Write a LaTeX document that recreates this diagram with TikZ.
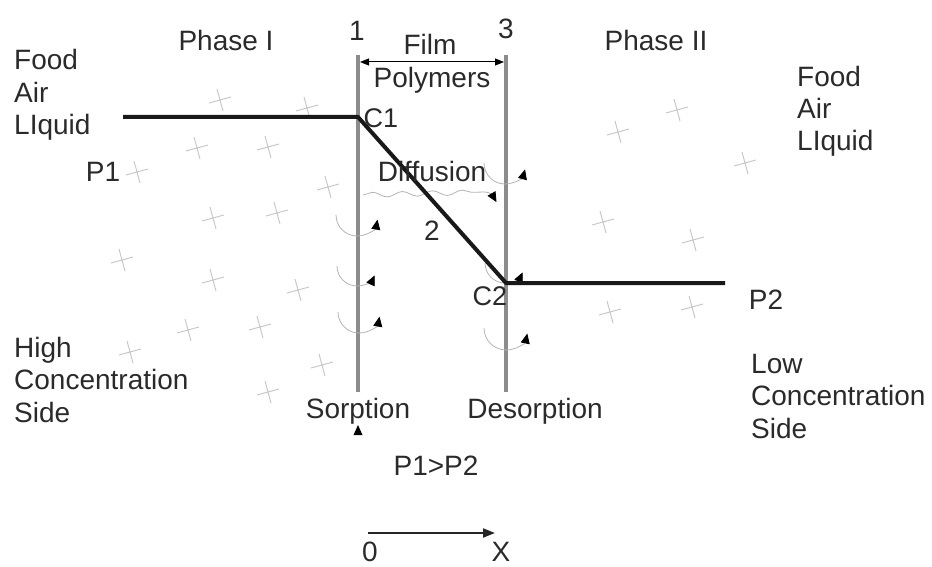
\documentclass[tikz,border=0pt]{standalone}
\usepackage{fontspec}
\setmainfont{Liberation Sans}
\usetikzlibrary{arrows.meta,decorations.pathmorphing}
\definecolor{txt}{HTML}{2A2A2A}
\definecolor{memb}{HTML}{8C8C8C}
\definecolor{crossc}{HTML}{C8C8C8}
\definecolor{flowc}{HTML}{B4B4B4}
\tikzset{
  lbl/.style={inner sep=0pt, text=txt, font=\fontsize{28}{32.5}\selectfont},
  blk/.style={lbl, align=left, anchor=base west},
  membrane/.style={draw=memb, line width=4pt},
  profile/.style={draw=black!90, line width=4pt},
  crossmark/.style={draw=crossc, line width=1pt},
  flow/.style={draw=flowc, line width=0.8pt, -{Triangle[black, length=10pt, width=9pt, sep=1pt]}},
}
\begin{document}
\begin{tikzpicture}[x=1pt, y=-1pt]
\useasboundingbox (0,0) rectangle (932,567);

% crosses
\foreach \cx/\cy in {220/100, 307/108, 197/148, 268/147, 137/172, 328/187, 213/218, 277/213,
  122/260, 213/280, 298/290, 188/330, 260/327, 130/352, 322/365, 268/392,
  618/132, 677/110, 745/163, 603/222, 693/240, 610/312, 692/307}
  \draw[crossmark] (\cx-11,\cy+3) -- (\cx+11,\cy-3) (\cx-3,\cy-11) -- (\cx+3,\cy+11);

% membranes
\coordinate (m1t) at (358,55); \coordinate (m1b) at (358,392);
\coordinate (m3t) at (506,55); \coordinate (m3b) at (506,392);
\draw[membrane] (m1t) -- (m1b);
\draw[membrane] (m3t) -- (m3b);

% film thickness arrow
\coordinate (fa) at (360,62); \coordinate (fb) at (504,62);
\draw[black, line width=1pt, {Triangle[length=9pt,width=7pt]}-{Triangle[length=9pt,width=7pt]}] (fa) -- (fb);

% sorption / desorption arcs
\draw[flow] (336,215) arc[start angle=180, end angle=10, radius=21];
\draw[flow] (337,266) arc[start angle=180, end angle=25, radius=20];
\draw[flow] (338,312) arc[start angle=180, end angle=10, radius=21];
\draw[flow] (484,163) arc[start angle=180, end angle=15, radius=21];
\draw[flow] (485,263) arc[start angle=180, end angle=25, radius=20];
\draw[flow] (484,328) arc[start angle=180, end angle=12, radius=22];
% diffusion wave
\draw[flowc, line width=0.8pt, decorate, decoration={snake, amplitude=2.5pt, segment length=30pt}] (363,195) -- (485,192);
\draw[flow] (485,192) to[out=0, in=120] (497,203);

% concentration profile
\coordinate (p0) at (123,117);
\coordinate (c1) at (358,117);
\coordinate (c2) at (506,283);
\coordinate (p3) at (725,283);
\draw[profile, line join=round] (p0) -- (c1) -- (c2) -- (p3);

% sorption marker
\coordinate (sm) at (358,431);
\fill[black] (sm) ++(0,-6) -- ++(4.5,10) -- ++(-9,0) -- cycle;

% axis
\coordinate (ax0) at (368,533); \coordinate (ax1) at (495,533);
\draw[black!85, line width=2pt, -{Triangle[length=12pt,width=9pt]}] (ax0) -- (ax1);

% labels
\node[lbl] (n1) at (357,31) {1};
\node[lbl] (n3) at (506,29) {3};
\node[lbl] (phI) at (226,40) {Phase I};
\node[lbl] (phII) at (656,40) {Phase II};
\node[lbl] (film) at (430,44) {Film};
\node[lbl] (poly) at (432,80) {Polymers};
\node[lbl, font=\fontsize{27}{30}\selectfont] (lc1) at (381,118) {C1};
\node[lbl, font=\fontsize{27}{30}\selectfont] (lc2) at (490,296) {C2};
\node[lbl] (diff) at (432,171) {Diffusion};
\node[lbl] (two) at (432,231) {2};
\node[lbl] (lp1) at (103,172) {P1};
\node[lbl] (lp2) at (766,300) {P2};
\node[blk] (fal) at (14,135) {Food\\Air\\LIquid};
\node[blk] (far) at (797,151) {Food\\Air\\LIquid};
\node[blk] (hcs) at (14,422) {High\\Concentration\\Side};
\node[blk] (lcs) at (751,438) {Low\\Concentration\\Side};
\node[lbl] (sorp) at (358,411) {Sorption};
\node[lbl] (desorp) at (535,411) {Desorption};
\node[lbl] (pp) at (436,466) {P1>P2};
\node[lbl] (zero) at (370,552) {0};
\node[lbl] (xx) at (501,552) {X};
\end{tikzpicture}
\end{document}
